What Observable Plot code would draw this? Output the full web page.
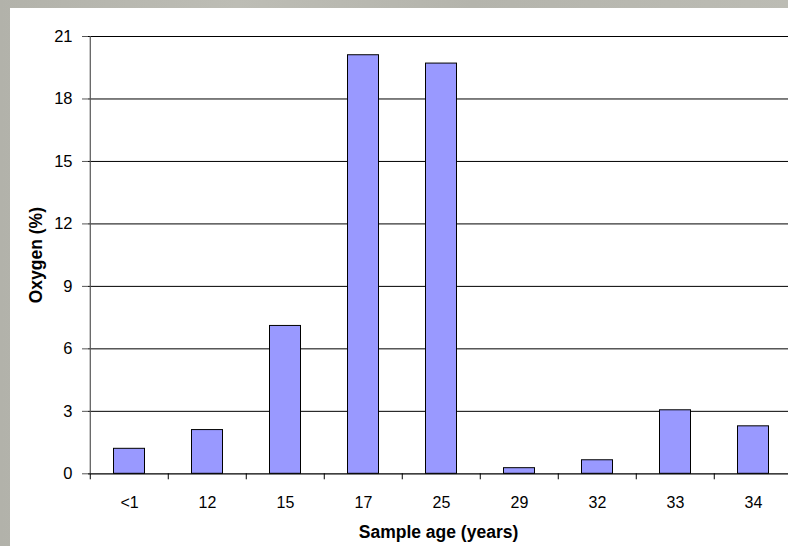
<!DOCTYPE html>
<html>
<head>
<meta charset="utf-8">
<script src="https://cdn.jsdelivr.net/npm/d3@7"></script>
<script src="https://cdn.jsdelivr.net/npm/@observablehq/plot@0.6"></script>
<style>
  html, body { margin: 0; padding: 0; width: 788px; height: 546px; overflow: hidden;
    background: linear-gradient(90deg, #b2b2aa 0%, #bdbdb5 30%, #b4b4ac 60%, #bcbcb4 100%); }
  #panel { position: absolute; left: 10px; top: 8px; width: 778px; height: 538px; background: #fff; overflow: hidden; }
  #panel svg { overflow: visible; }
</style>
</head>
<body>
<div id="panel"></div>
<script>
const categories = ["<1", "12", "15", "17", "25", "29", "32", "33", "34"];
const oxygen = [1.2, 2.1, 7.1, 20.1, 19.7, 0.27, 0.65, 3.05, 2.28];
const yTicks = [0, 3, 6, 9, 12, 15, 18, 21];
const gridTicks = [3, 6, 9, 12, 15, 18, 21];

const data = categories.map((c, i) => ({age: c, value: oxygen[i]}));

const mLeft = 78, xRight = 784, mTop = 28, yBottom = 465.3;
const bw = (xRight - mLeft) / categories.length;
const tickLen = 6 / ((yBottom - mTop) / 21);

const chart = Plot.plot({
  width: 778,
  height: 538,
  marginLeft: mLeft,
  marginTop: mTop,
  marginBottom: 538 - yBottom,
  marginRight: 0,
  style: {fontFamily: "Liberation Sans, Arial, sans-serif", background: "transparent", overflow: "visible"},
  x: {domain: categories, range: [mLeft, xRight], padding: 0},
  y: {domain: [0, 21], range: [yBottom, mTop]},
  marks: [
    Plot.ruleY(gridTicks, {y: d => d, stroke: "#000", strokeWidth: 1}),
    Plot.barY(data, {x: "age", y: "value", fill: "#9999ff", stroke: "#000", strokeWidth: 1, insetLeft: 23.5, insetRight: 23.5}),
    Plot.ruleY([0], {stroke: "#000", strokeWidth: 1.2}),
    Plot.ruleX(categories, {x: d => d, dx: -bw/2, y1: 0, y2: -tickLen, stroke: "#000", strokeWidth: 1}),
    Plot.axisY({ticks: yTicks, tickSize: 6, tickPadding: 10, fontSize: 16.5, label: null, stroke: "#555", color: "#000"}),
    Plot.ruleX([categories[0]], {x: d => d, dx: -bw/2, y1: 0, y2: 21, stroke: "#555", strokeWidth: 1.2}),
    Plot.axisX({tickSize: 0, tickPadding: 23, fontSize: 16, label: null, color: "#000"}),
    Plot.text(["Sample age (years)"], {frameAnchor: "bottom", dy: 64, fontWeight: "bold", fontSize: 17.5, fill: "#000"}),
    Plot.text(["Oxygen (%)"], {frameAnchor: "left", textAnchor: "middle", dx: -52, rotate: -90, fontWeight: "bold", fontSize: 17.5, fill: "#000"})
  ]
});
document.getElementById("panel").appendChild(chart);
</script>
</body>
</html>
